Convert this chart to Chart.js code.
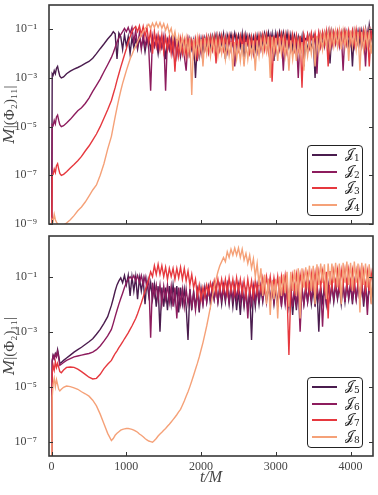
<!DOCTYPE html>
<html>
<head>
<meta charset="utf-8">
<script src="https://cdn.jsdelivr.net/npm/chart.js@4.4.1/dist/chart.umd.min.js"></script>
<style>
  html, body { margin: 0; padding: 0; background: #fff; }
  #wrap { position: relative; width: 378px; height: 495px; overflow: hidden; }
  canvas { position: absolute; left: 0; }
  #cTop { top: 0; }
  #cBot { top: 230px; }
  .legend { position: absolute; left: 307px; width: 54px; height: 69px; background: #fff;
            border: 1.5px solid #222; border-radius: 4px; font-family: 'DejaVu Serif', serif; }
  .row { position: absolute; left: 0; width: 100%; height: 0; }
  .ln { position: absolute; left: 4px; top: -1px; width: 25px; height: 2px; }
  .lb { position: absolute; left: 37px; top: -9px; font-size: 13px; line-height: 16px; color: #222; white-space: nowrap; }
  .lb sub { font-size: 9px; vertical-align: -3px; }
</style>
</head>
<body>
<div id="wrap">
  <canvas id="cTop" width="378" height="230"></canvas>
  <canvas id="cBot" width="378" height="265"></canvas>
  <div class="legend" id="legTop" style="top:145px"></div>
  <div class="legend" id="legBot" style="top:377px"></div>
</div>
<script>
// time samples (t/M), shared by all curves
const times = [0, 8, 20, 35, 50, 65, 80, 95, 110, 130, 160, 200, 250, 300, 350, 400, 450, 500, 550, 600, 650, 700, 750,
  800, 825, 850, 875, 900, 925, 950, 975, 1000, 1025, 1050, 1075, 1100, 1125, 1150, 1175, 1200, 1225, 1250, 1275,
  1300, 1325, 1350, 1375, 1400, 1425, 1450, 1475, 1500, 1525, 1550, 1575, 1600, 1625, 1650, 1675, 1700, 1725, 1750, 1775,
  1800, 1825, 1850, 1875, 1900, 1925, 1950, 1975, 2000, 2025, 2050, 2075, 2100, 2125, 2150, 2175, 2200, 2225, 2250, 2275,
  2300, 2325, 2350, 2375, 2400, 2425, 2450, 2475, 2500, 2525, 2550, 2575, 2600, 2625, 2650, 2675, 2700, 2725, 2750, 2775,
  2800, 2825, 2850, 2875, 2900, 2925, 2950, 2975, 3000, 3025, 3050, 3075, 3100, 3125, 3150, 3175, 3200, 3225, 3250, 3275,
  3300, 3325, 3350, 3375, 3400, 3425, 3450, 3475, 3500, 3525, 3550, 3575, 3600, 3625, 3650, 3675, 3700, 3725, 3750, 3775,
  3800, 3825, 3850, 3875, 3900, 3925, 3950, 3975, 4000, 4025, 4050, 4075, 4100, 4125, 4150, 4175, 4200, 4225, 4250, 4275,
  4300];

// top panel
const j1 = [1e-10, 1.5e-3, 1.3e-3, 2e-3, 1.5e-3, 2.5e-3, 3e-3, 1.8e-3, 1.2e-3, 1e-3, 1.1e-3, 1.5e-3, 1.9e-3, 2.3e-3, 2.7e-3, 3.2e-3, 4e-3, 4.8e-3, 6.5e-3, 1e-2, 1.6e-2, 2.5e-2, 4e-2,
  6e-2, 8e-2, 6.5e-2, 6e-3, 7e-2, 5e-2, 1.5e-2, 6e-2, 2e-2, 5e-2, 1e-2, 4.5e-2, 1.8e-2, 4e-2, 1.5e-2, 4.5e-2, 2e-2, 4e-2, 1.2e-2, 3.5e-2,
  4e-2, 1.5e-2, 4.5e-2, 2e-2, 3.5e-2, 1e-2, 4e-2, 1.8e-2, 4e-2, 6e-3, 3.5e-2, 1.5e-2, 4e-2, 1.2e-2, 4.5e-2, 2e-2, 3.5e-2, 8e-3, 4e-2, 1.5e-2,
  3.5e-2, 1e-2, 4e-2, 1.5e-2, 3.5e-2, 1e-3, 3e-2, 8e-3, 4e-2, 1.2e-2, 4.5e-2, 2e-2, 5e-2, 1.8e-2, 5.5e-2, 2.5e-2, 6e-2, 2e-2, 6e-2, 2.5e-2,
  6.5e-2, 6e-3, 6e-2, 3e-2, 6.5e-2, 2.5e-2, 7e-2, 3e-2, 6e-2, 2e-2, 6.5e-2, 4e-3, 6e-2, 2.5e-2, 5.5e-2, 2e-2, 5e-2, 1.5e-2, 5.5e-2, 2e-2,
  6e-2, 2.5e-2, 7e-2, 3e-2, 7.5e-2, 2.5e-2, 6.5e-2, 5e-3, 7e-2, 3e-2, 8e-2, 3e-2, 7.5e-2, 2.5e-2, 7e-2, 2e-2, 6e-2, 1.5e-2, 5.5e-2, 2e-2,
  5e-2, 1.5e-2, 5e-2, 3e-3, 4.5e-2, 1.2e-2, 5e-2, 1.5e-2, 4.5e-2, 1e-3, 5e-2, 1.5e-2, 6e-2, 2e-2, 7e-2, 2.5e-2, 7.5e-2, 4e-3, 8e-2, 3e-2,
  8e-2, 3e-2, 8.5e-2, 3e-2, 8e-2, 2.5e-2, 7.5e-2, 2e-2, 8e-2, 3e-3, 8e-2, 3e-2, 8.5e-2, 2.5e-2, 9e-2, 3e-2, 1e-1, 2e-2, 1.5e-1, 4e-2,
  1e-1];
const j2 = [1e-10, 1.2e-5, 1.1e-5, 1.8e-5, 1.3e-5, 2.5e-5, 3e-5, 1.8e-5, 1.2e-5, 1e-5, 1.1e-5, 1.4e-5, 2e-5, 3e-5, 4.5e-5, 6e-5, 9e-5, 1.5e-4, 2.8e-4, 5e-4, 9e-4, 1.8e-3, 3.5e-3,
  7e-3, 1.1e-2, 1.8e-2, 3e-2, 4.5e-2, 6e-2, 8e-2, 1.1e-1, 8e-2, 1.2e-1, 7e-2, 1.2e-1, 3e-2, 9e-2, 2e-2, 7e-2, 1.5e-2, 6e-2, 2e-2, 5e-2,
  1.5e-2, 3e-4, 5e-2, 2e-2, 5e-2, 1.5e-2, 4.5e-2, 1.8e-2, 5e-2, 3e-4, 4.5e-2, 1.5e-2, 4e-2, 1e-2, 4e-2, 8e-3, 3.5e-2, 1e-2, 3.5e-2, 8e-3,
  2e-3, 3.5e-2, 1e-2, 3e-2, 8e-3, 3e-2, 5e-3, 3.5e-2, 1e-2, 4e-2, 1.5e-2, 4e-2, 1.2e-2, 4.5e-2, 1.5e-2, 4.5e-2, 1.8e-2, 4.5e-2, 1.5e-2, 4.5e-2,
  1.5e-2, 4e-2, 1.2e-2, 4.5e-2, 1.5e-2, 4e-2, 3e-3, 4e-2, 1.5e-2, 4.5e-2, 1.8e-2, 5e-2, 1.5e-2, 4.5e-2, 1.2e-2, 4e-2, 1e-2, 4e-2, 1.2e-2, 4.5e-2,
  1.5e-2, 5e-2, 1.8e-2, 5e-2, 1.5e-2, 5.5e-2, 1.5e-2, 5e-2, 1.2e-2, 5e-2, 1.5e-2, 5e-2, 2e-3, 4.5e-2, 1.2e-2, 4.5e-2, 1.5e-2, 5e-2, 1.5e-2, 4.5e-2,
  1e-3, 5e-2, 1.5e-2, 5.5e-2, 2e-2, 6e-2, 1.8e-2, 6e-2, 2e-2, 6.5e-2, 1.5e-3, 6e-2, 2e-2, 6.5e-2, 2e-2, 7e-2, 2.5e-2, 7e-2, 2e-2, 7e-2,
  2.5e-2, 7e-2, 2e-2, 7.5e-2, 2e-3, 7e-2, 2.5e-2, 7.5e-2, 2.5e-2, 8e-2, 2e-2, 7.5e-2, 2.5e-2, 8e-2, 2e-2, 8e-2, 3e-3, 7.5e-2, 2.5e-2, 8e-2,
  4e-2];
const j3 = [1e-10, 1e-7, 1.1e-7, 1.8e-7, 1.3e-7, 2.5e-7, 3e-7, 1.8e-7, 1.2e-7, 1e-7, 1.1e-7, 1.4e-7, 2e-7, 2.8e-7, 4e-7, 6e-7, 1e-6, 1.6e-6, 2.8e-6, 5e-6, 1e-5, 2.2e-5, 5e-5,
  1.2e-4, 2.2e-4, 4e-4, 8e-4, 1.5e-3, 2.8e-3, 5e-3, 9e-3, 1.6e-2, 3e-2, 5e-2, 8e-2, 1.1e-1, 1.3e-1, 8e-2, 1.4e-1, 6e-2, 1.3e-1, 5e-2, 1.2e-1,
  3e-2, 9e-2, 1e-2, 8e-2, 2e-2, 6e-2, 1.5e-2, 6e-2, 1.2e-2, 5e-2, 1.5e-2, 5e-2, 1e-2, 4.5e-2, 1.8e-3, 4e-2, 8e-3, 4e-2, 1e-2, 3.5e-2,
  8e-3, 4e-2, 1e-2, 3.5e-2, 1.2e-2, 4e-2, 8e-3, 4.5e-2, 1.5e-2, 4.5e-2, 1.5e-2, 5e-2, 1.2e-2, 5e-2, 1.5e-2, 5e-2, 4e-3, 5e-2, 1.5e-2, 5.5e-2,
  1.5e-2, 5e-2, 1.8e-2, 5.5e-2, 1.5e-2, 5e-2, 1.2e-2, 5e-2, 1.5e-2, 5.5e-2, 2e-2, 5.5e-2, 1.5e-2, 5e-2, 1.2e-2, 5e-2, 1.5e-2, 5.5e-2, 1.8e-2, 6e-2,
  2e-2, 6e-2, 1.5e-2, 6e-2, 1.2e-2, 5.5e-2, 7e-4, 5.5e-2, 1.5e-2, 6e-2, 2e-2, 6.5e-2, 1.5e-2, 6e-2, 1.2e-2, 6e-2, 1.5e-2, 6e-2, 1.5e-2, 5.5e-2,
  1.5e-2, 5.5e-2, 4e-4, 5.5e-2, 2e-2, 6e-2, 2e-2, 7e-2, 2.5e-2, 7e-2, 2.5e-2, 7.5e-2, 2e-2, 7.5e-2, 2.5e-2, 8e-2, 3e-3, 8e-2, 2.5e-2, 8e-2,
  3e-2, 8.5e-2, 2.5e-2, 8e-2, 3e-2, 9e-2, 2.5e-2, 9e-2, 3e-2, 9e-2, 2.5e-2, 1e-1, 3e-2, 9e-2, 2.5e-2, 9e-2, 2e-2, 8e-2, 3e-3, 8e-2,
  3e-2];
const j4 = [1e-10, 1.5e-9, 1.3e-9, 2.5e-9, 1.5e-9, 1.2e-9, 1e-9, 8e-10, 7e-10, 8e-10, 9e-10, 1.1e-9, 1.5e-9, 2.2e-9, 3.5e-9, 5e-9, 8e-9, 1.4e-8, 2.5e-8, 4e-8, 1e-7, 3e-7, 1.2e-6,
  4e-6, 1e-5, 2.5e-5, 6e-5, 1.4e-4, 3e-4, 6e-4, 1.1e-3, 2e-3, 3.5e-3, 6e-3, 9e-3, 1.4e-2, 2e-2, 3e-2, 4.5e-2, 6e-2, 8e-2, 1.1e-1, 1.3e-1,
  1.6e-1, 1.1e-1, 1.8e-1, 1.2e-1, 1.9e-1, 1.2e-1, 1.9e-1, 1.1e-1, 1.7e-1, 9e-2, 1.5e-1, 7e-2, 1.1e-1, 4e-2, 8e-2, 2.5e-2, 5.5e-2, 1.5e-2, 5e-2, 1.2e-2,
  4.5e-2, 1e-2, 4.5e-2, 2e-4, 4e-2, 8e-3, 4.5e-2, 1e-2, 4e-2, 3e-3, 4.5e-2, 1e-2, 4e-2, 8e-3, 4e-2, 1.2e-2, 4e-2, 8e-3, 3.5e-2, 1e-2,
  3.5e-2, 6e-3, 3e-2, 8e-3, 3e-2, 2e-3, 3e-2, 6e-3, 2.5e-2, 5e-3, 2.5e-2, 3e-3, 3e-2, 6e-3, 3e-2, 8e-3, 3.5e-2, 2e-3, 3.5e-2, 8e-3,
  4e-2, 1e-2, 4.5e-2, 1.2e-2, 5e-2, 1e-3, 5e-2, 1e-2, 4.5e-2, 5e-3, 4.5e-2, 1e-2, 4e-2, 8e-3, 3.5e-2, 2e-3, 3.5e-2, 6e-3, 3e-2, 5e-3,
  3e-2, 8e-3, 3e-2, 2e-3, 3.5e-2, 8e-3, 4e-2, 1e-2, 4.5e-2, 3e-3, 5e-2, 1.2e-2, 6e-2, 1.5e-2, 7e-2, 2e-2, 7.5e-2, 1.5e-2, 8e-2, 2e-2,
  8.5e-2, 2e-2, 9e-2, 1.5e-2, 8.5e-2, 2e-2, 9e-2, 5e-3, 9e-2, 2e-2, 8.5e-2, 1.5e-2, 8e-2, 2e-3, 8e-2, 1.5e-2, 8.5e-2, 2e-2, 8e-2, 1e-2,
  6e-2];

// bottom panel
const j5 = [1e-9, 9e-5, 1.4e-4, 1.1e-4, 1.6e-4, 1.3e-4, 2.2e-4, 1.3e-4, 7e-5, 7.5e-5, 9e-5, 1.1e-4, 1.4e-4, 1.8e-4, 2.2e-4, 2.7e-4, 3.4e-4, 4.3e-4, 5.5e-4, 8e-4, 1.2e-3, 2e-3, 3.5e-3,
  9e-3, 1.6e-2, 3e-2, 5e-2, 7e-2, 9e-2, 6e-2, 1.1e-1, 5e-2, 1.1e-1, 2e-2, 1e-1, 3e-2, 1e-1, 1.5e-2, 9e-2, 3e-2, 8e-2, 1e-2, 7e-2,
  2e-2, 6e-2, 1.5e-2, 5e-2, 8e-3, 4.5e-2, 1e-3, 4e-2, 8e-3, 4e-2, 6e-3, 4.5e-2, 1e-2, 5e-2, 1.2e-2, 4.5e-2, 5e-3, 4e-2, 1e-2, 3.5e-2,
  8e-3, 5e-4, 3.5e-2, 6e-3, 3e-2, 8e-3, 3e-2, 5e-3, 3.5e-2, 1e-2, 4e-2, 1.2e-2, 4e-2, 1e-2, 4.5e-2, 1.5e-2, 4e-2, 1.2e-2, 4e-2, 1e-2,
  4e-2, 1.2e-2, 4.5e-2, 1e-2, 4e-2, 8e-3, 3.5e-2, 6e-3, 3e-2, 4e-3, 3.5e-2, 8e-3, 3e-2, 6e-3, 3e-2, 5e-4, 3.5e-2, 8e-3, 4e-2, 1e-2,
  4e-2, 1.2e-2, 4.5e-2, 1.5e-2, 5e-2, 1.2e-2, 4.5e-2, 1e-2, 4e-2, 8e-3, 4e-2, 1e-2, 4.5e-2, 1.2e-2, 4e-2, 8e-3, 3.5e-2, 4e-3, 3e-2, 6e-3,
  3e-2, 8e-3, 3.5e-2, 1e-2, 4e-2, 1.2e-2, 4.5e-2, 1e-2, 4e-2, 8e-3, 4e-2, 1e-3, 4e-2, 1.2e-2, 4.5e-2, 1e-2, 4.5e-2, 1.5e-2, 5e-2, 1.2e-2,
  5e-2, 1.5e-2, 4.5e-2, 1e-2, 5e-2, 1.2e-2, 5.5e-2, 1.5e-2, 5e-2, 1e-2, 5e-2, 1.5e-2, 5.5e-2, 1.2e-2, 5e-2, 8e-3, 4.5e-2, 1e-2, 5e-2, 1.5e-2,
  4e-2];
const j6 = [1e-9, 8e-5, 1.3e-4, 1e-4, 1.5e-4, 1.2e-4, 1.9e-4, 1.1e-4, 6e-5, 6.5e-5, 7.5e-5, 9e-5, 1.05e-4, 1.2e-4, 1.3e-4, 1.4e-4, 1.5e-4, 1.6e-4, 1.8e-4, 2.2e-4, 3e-4, 4.5e-4, 7e-4,
  1.2e-3, 2e-3, 3.5e-3, 6e-3, 1e-2, 1.6e-2, 2.5e-2, 4e-2, 6e-2, 8e-2, 1e-1, 8e-2, 1.1e-1, 7e-2, 1.1e-1, 6e-2, 1.1e-1, 5e-2, 1e-1, 4e-2,
  8e-2, 6e-4, 6e-2, 2e-2, 5e-2, 1.5e-2, 5e-2, 1e-2, 4.5e-2, 1.5e-2, 5e-2, 1.2e-2, 4.5e-2, 8e-3, 4e-2, 3e-3, 4e-2, 1e-2, 3.5e-2, 8e-3,
  3.5e-2, 1e-2, 3e-2, 8e-3, 2.5e-2, 6e-3, 3e-2, 8e-3, 3e-2, 1e-2, 3.5e-2, 1.2e-2, 4e-2, 1.5e-2, 4.5e-2, 1.5e-2, 4.5e-2, 1.2e-2, 4.5e-2, 1.5e-2,
  5e-2, 1.5e-2, 5e-2, 1.2e-2, 4.5e-2, 1.5e-2, 5e-2, 1.5e-2, 5e-2, 1.2e-2, 4.5e-2, 1e-2, 4e-2, 3e-3, 4e-2, 1e-2, 4.5e-2, 1.2e-2, 5e-2, 1.5e-2,
  5e-2, 1.5e-2, 5e-2, 1.2e-2, 5.5e-2, 1.5e-2, 5e-2, 1.2e-2, 5e-2, 1e-2, 4.5e-2, 8e-3, 4.5e-2, 1e-2, 5e-2, 1.2e-2, 4.5e-2, 8e-3, 4e-2, 1e-2,
  4e-2, 1e-3, 4e-2, 1e-2, 4.5e-2, 1.2e-2, 5e-2, 1.5e-2, 5e-2, 1.2e-2, 5e-2, 1.5e-2, 4.5e-2, 1.5e-3, 5e-2, 1.2e-2, 5.5e-2, 1.5e-2, 5.5e-2, 1.5e-2,
  6e-2, 1.8e-2, 6e-2, 1.5e-2, 5.5e-2, 1.2e-2, 6e-2, 1.8e-2, 6e-2, 1.5e-2, 6.5e-2, 1.5e-2, 6e-2, 1.2e-2, 6e-2, 1.5e-2, 5.5e-2, 4e-3, 6e-2, 1.5e-2,
  5e-2];
const j7 = [1e-9, 3e-5, 6e-5, 4e-5, 8e-5, 5e-5, 7e-5, 5e-5, 3.5e-5, 3.2e-5, 4e-5, 5e-5, 5.2e-5, 5e-5, 4.3e-5, 3.5e-5, 2.8e-5, 2.2e-5, 1.9e-5, 2e-5, 2.8e-5, 4.5e-5, 6.5e-5,
  9e-5, 1.2e-4, 1.6e-4, 2e-4, 2.6e-4, 3.3e-4, 4.2e-4, 5.5e-4, 7e-4, 9e-4, 1.2e-3, 1.6e-3, 2.2e-3, 3e-3, 4.5e-3, 7e-3, 1.1e-2, 1.8e-2, 3e-2, 5e-2,
  8e-2, 1.5e-1, 1e-1, 2.5e-1, 1.2e-1, 2.8e-1, 1.2e-1, 2.5e-1, 1e-1, 2.2e-1, 8e-2, 2e-1, 1e-1, 2e-1, 8e-2, 2e-1, 9e-2, 2.2e-1, 8e-2, 2e-1,
  7e-2, 1.6e-1, 5e-2, 1.2e-1, 4e-2, 8e-2, 2e-2, 5e-2, 1.5e-2, 4e-2, 2e-2, 5e-2, 2.5e-2, 6e-2, 3e-2, 7e-2, 2.5e-2, 8e-2, 3e-2, 8e-2,
  3e-2, 8e-2, 2.5e-2, 9e-2, 3e-2, 8e-2, 2.5e-2, 9e-2, 3e-2, 8e-2, 2.5e-2, 7e-2, 2e-2, 8e-2, 2.5e-2, 7e-2, 2e-2, 7e-2, 2.5e-2, 8e-2,
  3e-2, 9e-2, 3e-2, 1e-1, 3.5e-2, 1e-1, 2.5e-2, 9e-2, 3e-2, 1e-1, 2.5e-2, 1e-1, 3e-2, 1.1e-1, 2.5e-2, 1.4e-4, 3e-2, 1.1e-1, 3e-2, 1.2e-1,
  3e-2, 1.2e-1, 4e-2, 1.3e-1, 3.5e-2, 1.2e-1, 3e-2, 1.3e-1, 4e-2, 1.4e-1, 3.5e-2, 1.5e-1, 4e-2, 1.5e-1, 3.5e-2, 1.5e-1, 3e-3, 1.6e-1, 4e-2, 1.6e-1,
  4.5e-2, 1.7e-1, 4e-2, 1.7e-1, 5e-2, 1.8e-1, 4.5e-2, 1.8e-1, 5e-2, 1.7e-1, 4e-2, 1.6e-1, 4.5e-2, 1.7e-1, 4e-2, 1.6e-1, 3.5e-2, 1.5e-1, 3e-2, 1.4e-1,
  5e-2];
const j8 = [1e-9, 4e-6, 1.2e-5, 2e-5, 1e-5, 1.8e-5, 1.2e-5, 8e-6, 7e-6, 8e-6, 9.5e-6, 1.05e-5, 1e-5, 9e-6, 8e-6, 6.5e-6, 5.5e-6, 4.5e-6, 3.2e-6, 2e-6, 1e-6, 4.5e-7, 2e-7,
  1.1e-7, 1.3e-7, 1.7e-7, 2e-7, 2.3e-7, 2.6e-7, 2.8e-7, 2.9e-7, 3e-7, 3e-7, 2.9e-7, 2.8e-7, 2.6e-7, 2.4e-7, 2.2e-7, 1.9e-7, 1.7e-7, 1.5e-7, 1.3e-7, 1.15e-7,
  1.05e-7, 1e-7, 9.5e-8, 1.1e-7, 1.3e-7, 1.6e-7, 1.9e-7, 2.2e-7, 2.6e-7, 3e-7, 3.6e-7, 4.3e-7, 5.2e-7, 6.3e-7, 7.7e-7, 9.5e-7, 1.2e-6, 1.5e-6, 2.1e-6, 3e-6,
  4.5e-6, 6.5e-6, 1e-5, 1.6e-5, 2.6e-5, 4.3e-5, 7e-5, 1.2e-4, 2.2e-4, 4e-4, 8e-4, 1.6e-3, 3.5e-3, 8e-3, 1.8e-2, 4e-2, 8e-2, 1.5e-1, 2.5e-1, 3.5e-1,
  5e-1, 3.5e-1, 8e-1, 5e-1, 1e0, 6e-1, 1.1e0, 6e-1, 1.1e0, 5e-1, 1e0, 4e-1, 7e-1, 3e-1, 6e-1, 2e-1, 4.5e-1, 1e-1, 3e-1, 5e-2,
  2e-1, 2e-2, 1.2e-1, 1e-2, 8e-2, 4e-3, 7e-2, 1.5e-2, 8e-2, 3e-3, 1e-1, 2e-2, 1.2e-1, 2.5e-2, 1.5e-1, 8e-3, 1.5e-1, 3e-2, 1.8e-1, 2e-2,
  2e-1, 3e-3, 2e-1, 4e-2, 2.2e-1, 5e-2, 2.5e-1, 3e-2, 2.5e-1, 1e-2, 2.8e-1, 5e-2, 3e-1, 6e-2, 2.8e-1, 1.5e-2, 3e-1, 5e-2, 3e-1, 6e-2,
  3.2e-1, 4e-2, 3e-1, 1e-2, 3.2e-1, 6e-2, 3.5e-1, 5e-2, 3.2e-1, 3e-2, 3.5e-1, 6e-2, 3e-1, 5e-3, 3.2e-1, 5e-2, 3e-1, 4e-2, 2.8e-1, 1e-2,
  2e-1];

const colors = ['#4a1c4e', '#8d1c5d', '#e6383e', '#f5a178'];
const topSubs = ['1', '2', '3', '4'];
const botSubs = ['5', '6', '7', '8'];
const xTicks = [0, 1000, 2000, 3000, 4000];
const xLabels = ['0', '1000', '2000', '3000', '4000'];
const topYTicks = [1e-9, 1e-7, 1e-5, 1e-3, 1e-1];
const topYLabels = ['10⁻⁹', '10⁻⁷', '10⁻⁵', '10⁻³', '10⁻¹'];
const botYTicks = [1e-7, 1e-5, 1e-3, 1e-1];
const botYLabels = ['10⁻⁷', '10⁻⁵', '10⁻³', '10⁻¹'];

const serif = "'Liberation Serif', 'DejaVu Serif', serif";
const textColor = '#444';

// frame around the plot area plus inward ticks (x bottom, y both sides)
const frameTicks = {
  id: 'frameTicks',
  afterDraw(chart) {
    const {ctx, chartArea: a, scales} = chart;
    ctx.save();
    ctx.strokeStyle = '#333';
    ctx.lineWidth = 1;
    scales.x.ticks.forEach(t => {
      const px = Math.round(scales.x.getPixelForValue(t.value)) + 0.5;
      ctx.beginPath(); ctx.moveTo(px, a.bottom); ctx.lineTo(px, a.bottom - 4); ctx.stroke();
    });
    scales.y.ticks.forEach(t => {
      const py = Math.round(scales.y.getPixelForValue(t.value)) + 0.5;
      ctx.beginPath();
      ctx.moveTo(a.left, py); ctx.lineTo(a.left + 4, py);
      ctx.moveTo(a.right, py); ctx.lineTo(a.right - 4, py);
      ctx.stroke();
    });
    ctx.lineWidth = 1.6;
    ctx.strokeStyle = '#383838';
    ctx.strokeRect(a.left, a.top, a.right - a.left, a.bottom - a.top);
    ctx.restore();
  }
};

function makeChart(id, series, yMin, yMax, yTicks, yLabels, showX, pad) {
  const datasets = series.map((vals, i) => ({
    data: times.map((t, k) => ({x: t, y: vals[k]})),
    borderColor: colors[i],
    borderWidth: 1.4,
    pointRadius: 0,
    tension: 0,
    order: series.length - i
  }));
  return new Chart(document.getElementById(id), {
    type: 'line',
    data: {datasets},
    plugins: [frameTicks],
    options: {
      responsive: false,
      animation: false,
      events: [],
      layout: {padding: pad},
      plugins: {legend: {display: false}, tooltip: {enabled: false}},
      scales: {
        x: {
          type: 'linear', min: -35, max: 4300,
          afterBuildTicks: s => { s.ticks = xTicks.map(v => ({value: v})); },
          afterFit: s => { s.height = showX ? 39 : 0; s.paddingLeft = 0; s.paddingRight = 0; },
          grid: {display: false}, border: {display: false},
          ticks: {display: showX, padding: -4, maxRotation: 0, autoSkip: false, color: textColor,
                  font: {family: serif, size: 12}, callback: (v, i) => xLabels[i]},
          title: {display: showX, text: 't/M', color: textColor, padding: {top: 0, bottom: 8},
                  font: {family: serif, size: 16, style: 'italic'}}
        },
        y: {
          type: 'logarithmic', min: yMin, max: yMax,
          afterBuildTicks: s => { s.ticks = yTicks.map(v => ({value: v})); },
          afterFit: s => { s.width = 49; s.paddingTop = 0; s.paddingBottom = 0; },
          grid: {display: false}, border: {display: false},
          ticks: {padding: 4, autoSkip: false, color: textColor,
                  font: {family: serif, size: 12}, callback: (v, i) => yLabels[i]},
          title: {display: true, text: '𝑀|(Φ₂)₁₁|', color: textColor, padding: {top: 1, bottom: 0},
                  font: {family: serif, size: 15}}
        }
      }
    }
  });
}

makeChart('cTop', [j1, j2, j3, j4], 1e-9, 1, topYTicks, topYLabels, false, {top: 5, right: 5, bottom: 6, left: 0});
makeChart('cBot', [j5, j6, j7, j8], 3e-8, 3, botYTicks, botYLabels, true, {top: 6, right: 5, bottom: 0, left: 0});

function makeLegend(id, subs, rowYs) {
  const box = document.getElementById(id);
  subs.forEach((s, i) => {
    const row = document.createElement('div');
    row.className = 'row';
    row.style.top = rowYs[i] + 'px';
    row.innerHTML = '<div class="ln" style="background:' + colors[i] + '"></div>' +
      '<div class="lb">𝒥<sub>' + s + '</sub></div>';
    box.appendChild(row);
  });
}
makeLegend('legTop', topSubs, [9, 25.5, 42, 58.5]);
makeLegend('legBot', botSubs, [9, 25.5, 42, 59]);
</script>
</body>
</html>
